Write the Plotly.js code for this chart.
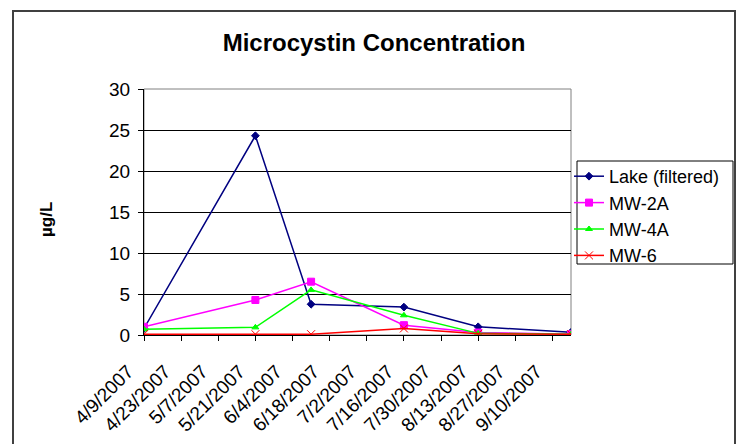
<!DOCTYPE html>
<html>
<head>
<meta charset="utf-8">
<script src="https://cdn.plot.ly/plotly-3.0.1.min.js"></script>
<style>
html,body{margin:0;padding:0;background:#fff;}
#chart{width:742px;height:444px;}
</style>
</head>
<body>
<div id="chart"></div>
<script>
const dates = ["2007-04-09", "2007-05-21", "2007-06-11", "2007-07-16", "2007-08-13", "2007-09-17"];
const lake = [0.8, 24.3, 3.75, 3.4, 1.0, 0.33];
const mw2a = [1.0, 4.27, 6.5, 1.2, 0.3, 0.1];
const mw4a = [0.7, 0.93, 5.5, 2.4, 0.2, 0.1];
const mw6 = [0.1, 0.1, 0.1, 0.8, 0.15, 0.1];
const tickDates = ["2007-04-09","2007-04-23","2007-05-07","2007-05-21","2007-06-04","2007-06-18","2007-07-02","2007-07-16","2007-07-30","2007-08-13","2007-08-27","2007-09-10"];
const tickLabels = ["4/9/2007","4/23/2007","5/7/2007","5/21/2007","6/4/2007","6/18/2007","7/2/2007","7/16/2007","7/30/2007","8/13/2007","8/27/2007","9/10/2007"];
const yTicks = [0, 5, 10, 15, 20, 25, 30];

const font = "Arial, 'Liberation Sans', sans-serif";
const PW = 427, PH = 246, L = 144, T = 89;
function px(x) { return (x - L) / PW; }
function py(y) { return (T + PH - y) / PH; }
function tr(name, y, color, symbol, size) {
  return {x: dates, y: y, name: name, type: 'scatter', mode: 'lines+markers',
    line: {color: color, width: 1.5},
    marker: {symbol: symbol, size: size, color: color, line: {color: color, width: 1}}};
}
const data = [
  tr('Lake (filtered)', lake, '#000080', 'diamond', 6),
  tr('MW-2A', mw2a, '#FF00FF', 'square', 7),
  tr('MW-4A', mw4a, '#00FF00', 'triangle-up', 6),
  tr('MW-6', mw6, '#FF0000', 'x-thin-open', 8)
];
const layout = {
  width: 742, height: 444,
  margin: {l: 144, r: 171, t: 89, b: 109},
  paper_bgcolor: '#fff', plot_bgcolor: '#fff',
  font: {family: font, size: 19, color: '#000'},
  title: {text: '<b>Microcystin Concentration</b>', font: {family: font, size: 24, color: '#000'},
    x: 374/742, xref: 'container', xanchor: 'center', y: 1 - 43/444, yanchor: 'middle'},
  showlegend: true,
  legend: {x: px(569), y: py(158), xanchor: 'left', yanchor: 'top',
    borderwidth: 0, bgcolor: 'rgba(0,0,0,0)',
    font: {family: font, size: 18, color: '#000'}, tracegroupgap: 0, itemwidth: 30},
  xaxis: {type: 'date', range: ["2007-04-09", "2007-09-17"],
    tickvals: tickDates, ticktext: tickLabels, tickangle: -45,
    ticks: 'outside', ticklen: 5, tickcolor: '#000', tickwidth: 1,
    ticklabelstandoff: 12, ticklabelshift: -16,
    showline: true, linecolor: '#000', linewidth: 1, mirror: false,
    showgrid: false, zeroline: false,
    tickfont: {family: font, size: 19, color: '#000'}},
  yaxis: {range: [0, 30], tickvals: yTicks, ticks: 'outside', ticklen: 5, tickcolor: '#000',
    ticklabelstandoff: 4,
    showline: true, linecolor: '#000', linewidth: 1,
    showgrid: true, gridcolor: '#000', gridwidth: 1, zeroline: false,
    tickfont: {family: font, size: 19, color: '#000'}},
  annotations: [
    {text: '<b>µg/L</b>', xref: 'paper', yref: 'paper', x: px(46), y: py(220),
      xanchor: 'center', yanchor: 'middle', textangle: -90, showarrow: false,
      font: {family: font, size: 17, color: '#000'}}
  ],
  shapes: [
    {type: 'rect', xref: 'paper', yref: 'paper', x0: 0, x1: 1, y0: 0, y1: 1,
      line: {color: '#808080', width: 1}, layer: 'below'},
    {type: 'rect', xref: 'paper', yref: 'paper', x0: px(577), x1: px(733),
      y0: py(264), y1: py(161), line: {color: '#000', width: 1}},
    {type: 'rect', xref: 'paper', yref: 'paper', x0: px(13), x1: px(735),
      y0: py(460), y1: py(11), line: {color: '#404040', width: 2}}
  ]
};
Plotly.newPlot('chart', data, layout, {displayModeBar: false, staticPlot: true});
</script>
</body>
</html>
